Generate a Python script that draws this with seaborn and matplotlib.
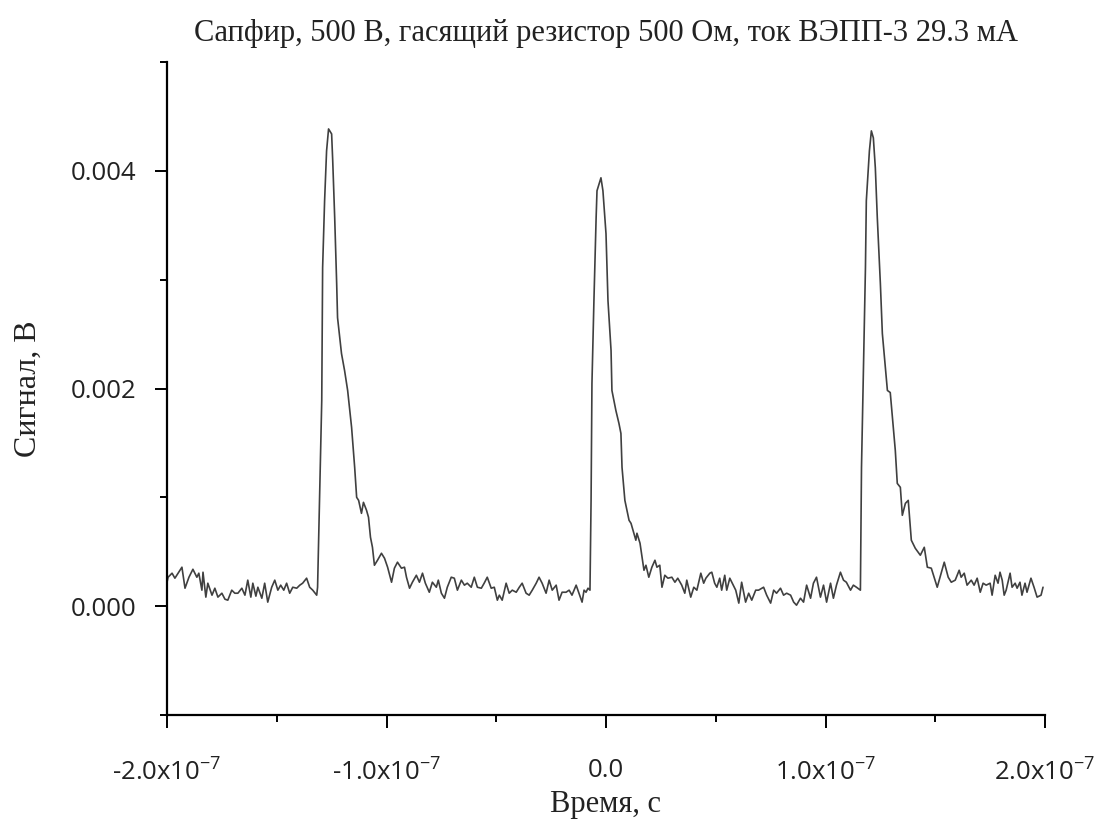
import numpy as np
import pandas as pd
import matplotlib
matplotlib.use("Agg")
import matplotlib.pyplot as plt
import seaborn as sns
from matplotlib.ticker import MultipleLocator, FixedLocator, FuncFormatter

# ---- data (time in ns, signal in mV) ----
t_base1 = [-200.0, -199.5, -197.7, -196.4, -193.2, -191.8, -190.0, -188.2, -186.4, -185.5,
           -184.1, -183.6, -182.3, -181.4, -179.5, -178.2, -176.8, -175.0, -173.6, -172.3,
           -170.5, -169.1, -167.7, -165.9, -164.5, -163.2, -161.8, -160.9, -159.5, -158.6,
           -156.8, -155.5, -154.1, -152.3, -150.9, -149.5, -148.2, -146.8, -145.5, -144.1,
           -142.7, -140.9, -139.5, -138.2, -136.4, -135.0, -133.6, -131.8, -131.4]
v_base1 = [0.220, 0.266, 0.303, 0.257, 0.358, 0.165, 0.266, 0.339, 0.266, 0.303,
           0.147, 0.312, 0.083, 0.211, 0.101, 0.165, 0.083, 0.119, 0.064, 0.055,
           0.147, 0.119, 0.119, 0.165, 0.101, 0.239, 0.083, 0.211, 0.092, 0.174,
           0.073, 0.211, 0.037, 0.174, 0.239, 0.147, 0.193, 0.147, 0.211, 0.119,
           0.174, 0.165, 0.193, 0.211, 0.257, 0.174, 0.147, 0.101, 0.174]

t_peak1 = [-130.5, -129.5, -129.1, -128.2, -127.3, -126.4, -125.0, -124.5, -123.6, -122.7,
           -122.3, -120.5, -119.1, -117.7, -115.9, -114.5, -113.6, -112.7, -111.4, -110.5,
           -109.1, -108.2, -107.3]
v_peak1 = [0.972, 1.890, 3.110, 3.725, 4.183, 4.385, 4.339, 4.092, 3.569, 2.963,
           2.651, 2.321, 2.165, 1.982, 1.642, 1.275, 1.000, 0.972, 0.853, 0.954,
           0.881, 0.817, 0.633]

t_base2 = [-106.4, -105.5, -104.1, -102.3, -100.9, -99.5, -97.7, -96.4, -95.0, -93.2,
           -91.8, -90.9, -89.5, -88.2, -86.4, -85.0, -83.6, -82.3, -80.5, -79.1,
           -77.3, -76.4, -75.0, -73.6, -72.3, -70.5, -69.1, -67.7, -65.9, -64.5,
           -63.2, -61.4, -60.0, -58.6, -56.8, -55.5, -54.1, -52.3, -50.9, -49.5,
           -48.6, -47.3, -45.5, -44.1, -42.7, -40.9, -39.5, -38.2, -36.4, -35.0,
           -33.6, -31.8, -30.5, -29.1, -27.3, -25.9, -24.5, -22.7, -21.4, -20.0,
           -18.2, -16.8, -15.5, -13.6, -12.3, -10.9, -10.0, -9.1, -8.2, -7.3]
v_base2 = [0.541, 0.376, 0.422, 0.486, 0.440, 0.358, 0.220, 0.349, 0.404, 0.349,
           0.358, 0.266, 0.165, 0.220, 0.284, 0.220, 0.303, 0.211, 0.128, 0.220,
           0.174, 0.239, 0.119, 0.073, 0.174, 0.266, 0.257, 0.147, 0.239, 0.193,
           0.211, 0.174, 0.266, 0.174, 0.165, 0.211, 0.266, 0.165, 0.174, 0.055,
           0.101, 0.055, 0.211, 0.119, 0.147, 0.128, 0.174, 0.211, 0.119, 0.101,
           0.147, 0.211, 0.266, 0.211, 0.119, 0.239, 0.147, 0.193, 0.055, 0.128,
           0.128, 0.147, 0.101, 0.193, 0.119, 0.037, 0.147, 0.128, 0.165, 0.147]

t_peak2 = [-6.8, -6.4, -5.5, -4.5, -4.1, -2.3, -1.4, 0.0, 0.9, 2.3,
           2.7, 4.5, 5.9, 6.8, 7.3, 8.6, 10.5, 11.4, 12.3, 13.6,
           14.1, 15.5]
v_peak2 = [0.972, 2.046, 2.807, 3.569, 3.817, 3.936, 3.817, 3.422, 2.807, 2.349,
           1.982, 1.798, 1.679, 1.587, 1.275, 0.972, 0.789, 0.761, 0.697, 0.606,
           0.670, 0.578]

t_base3 = [17.3, 18.2, 19.5, 20.9, 22.3, 23.2, 24.5, 25.5, 26.8, 28.2,
           30.0, 31.4, 32.7, 34.5, 35.9, 36.8, 38.6, 40.0, 41.4, 43.2,
           44.5, 45.5, 47.3, 48.2, 49.5, 50.5, 51.8, 52.7, 54.1, 55.0,
           56.4, 57.3, 59.1, 60.5, 61.8, 63.6, 65.0, 66.4, 68.2, 69.5,
           71.8, 73.2, 75.0, 76.4, 77.7, 79.5, 80.9, 82.3, 84.1, 85.5,
           86.8, 88.6, 90.0, 91.4, 93.2, 94.5, 95.9, 97.7, 99.1, 100.5,
           102.3, 103.6, 105.0, 106.8, 108.2, 109.5, 111.4, 112.7, 114.1, 115.9]
v_base3 = [0.330, 0.376, 0.266, 0.358, 0.422, 0.358, 0.376, 0.174, 0.284, 0.257,
           0.266, 0.220, 0.257, 0.193, 0.119, 0.239, 0.083, 0.174, 0.147, 0.303,
           0.211, 0.257, 0.303, 0.312, 0.211, 0.174, 0.257, 0.147, 0.284, 0.147,
           0.257, 0.220, 0.147, 0.028, 0.220, 0.037, 0.119, 0.055, 0.147, 0.147,
           0.174, 0.101, 0.028, 0.147, 0.119, 0.165, 0.101, 0.119, 0.101, 0.037,
           0.009, 0.073, 0.037, 0.193, 0.073, 0.211, 0.266, 0.083, 0.193, 0.037,
           0.211, 0.073, 0.193, 0.312, 0.239, 0.220, 0.147, 0.193, 0.174, 0.147]

t_peak3 = [116.4, 117.3, 118.2, 118.6, 120.0, 120.9, 121.8, 122.7, 123.6, 125.0,
           125.9, 127.3, 128.2, 129.5, 130.5, 131.8, 132.7, 134.1, 135.0, 136.4,
           137.7]
v_peak3 = [1.275, 2.193, 3.110, 3.725, 4.183, 4.367, 4.303, 4.028, 3.569, 2.963,
           2.505, 2.193, 1.982, 1.963, 1.734, 1.431, 1.128, 1.092, 0.835, 0.945,
           0.972]

t_base4 = [139.1, 140.9, 143.2, 145.0, 146.4, 148.2, 149.5, 150.9, 152.7, 154.1,
           155.9, 157.3, 159.1, 160.9, 161.8, 163.2, 164.5, 166.4, 167.7, 169.1,
           170.5, 171.8, 173.2, 175.0, 175.9, 177.3, 178.6, 179.5, 180.5, 181.4,
           182.3, 184.1, 185.0, 186.4, 187.3, 188.6, 189.5, 190.9, 191.8, 193.6,
           195.0, 196.4, 198.2, 199.1]
v_base4 = [0.606, 0.532, 0.468, 0.541, 0.358, 0.349, 0.266, 0.174, 0.303, 0.404,
           0.266, 0.220, 0.239, 0.330, 0.266, 0.303, 0.193, 0.239, 0.193, 0.257,
           0.128, 0.211, 0.193, 0.211, 0.101, 0.284, 0.211, 0.312, 0.239, 0.101,
           0.147, 0.303, 0.174, 0.211, 0.165, 0.220, 0.101, 0.211, 0.128, 0.257,
           0.174, 0.083, 0.101, 0.174]

title = "Сапфир, 500 В, гасящий резистор 500 Ом, ток ВЭПП-3 29.3 мА"
xlabel = "Время, с"
ylabel = "Сигнал, В"
x_major = [-2e-7, -1e-7, 0.0, 1e-7, 2e-7]
y_major = [0.000, 0.002, 0.004]

# ---- assemble ----
t_ns = t_base1 + t_peak1 + t_base2 + t_peak2 + t_base3 + t_peak3 + t_base4
v_mv = v_base1 + v_peak1 + v_base2 + v_peak2 + v_base3 + v_peak3 + v_base4
df = pd.DataFrame({"t": np.array(t_ns) * 1e-9, "v": np.array(v_mv) * 1e-3})

sns.set_theme(style="ticks")
plt.rcParams["font.family"] = ["Open Sans", "DejaVu Sans"]
plt.rcParams["mathtext.fontset"] = "custom"
plt.rcParams["mathtext.rm"] = "Open Sans"
plt.rcParams["axes.unicode_minus"] = False

fig = plt.figure(figsize=(11.04, 8.25), dpi=100)
ax = fig.add_axes([167 / 1104, 1 - 715 / 825, (1045 - 167) / 1104, (715 - 62) / 825])

sns.lineplot(data=df, x="t", y="v", ax=ax, color="#404040", linewidth=1.2,
             estimator=None, sort=False)

ax.set_xlim(-2e-7, 2e-7)
ax.set_ylim(-0.001, 0.005)
ax.xaxis.set_major_locator(FixedLocator(x_major))
ax.xaxis.set_minor_locator(MultipleLocator(0.5e-7))
ax.yaxis.set_major_locator(FixedLocator(y_major))
ax.yaxis.set_minor_locator(MultipleLocator(0.001))


def xfmt(val, pos):
    m = val / 1e-7
    if abs(m) < 1e-9:
        return "0.0"
    return "%.1fx10$^{\\mathregular{-7}}$" % m


ax.xaxis.set_major_formatter(FuncFormatter(xfmt))
ax.yaxis.set_major_formatter(FuncFormatter(lambda v, p: "%.3f" % v))

for s in ["left", "bottom"]:
    ax.spines[s].set_linewidth(1.6)
    ax.spines[s].set_color("black")
sns.despine(ax=ax)

ax.tick_params(axis="both", which="major", length=9, width=1.4, color="black",
               labelsize=18.5, labelcolor="#222222")
ax.tick_params(axis="both", which="minor", length=5, width=1.4, color="black")
ax.tick_params(axis="y", which="major", pad=13)
ax.tick_params(axis="x", which="major", pad=22)

serif = ["Liberation Serif", "DejaVu Serif"]
ax.set_title(title, family=serif, fontsize=22, pad=15, color="#222222")
ax.set_xlabel(xlabel, family=serif, fontsize=22, labelpad=3, color="#222222")
ax.set_ylabel(ylabel, family=serif, fontsize=23, labelpad=20, color="#222222")

fig.savefig("out.png", dpi=100)
